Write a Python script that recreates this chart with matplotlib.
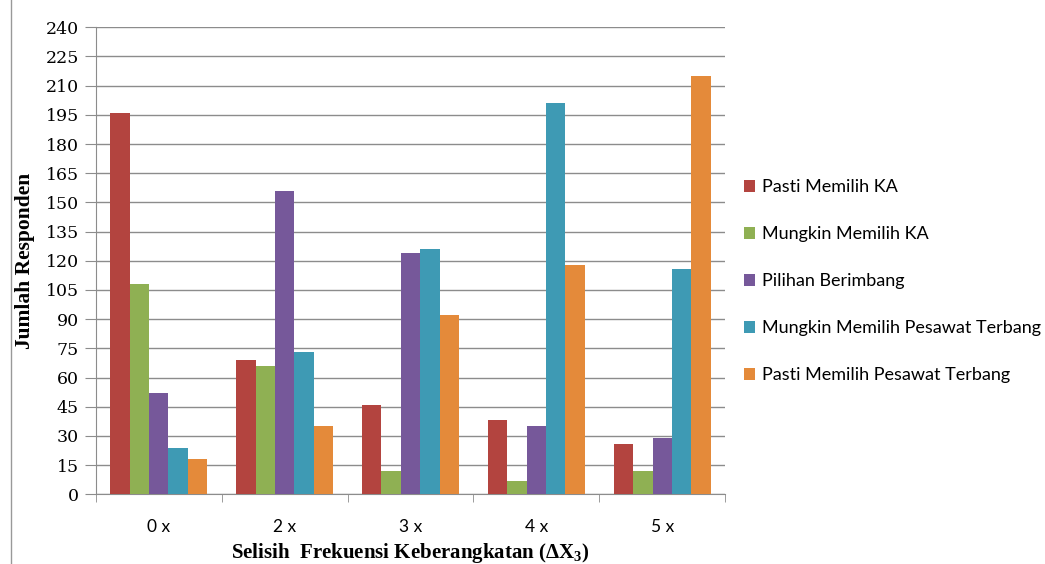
import numpy as np
import matplotlib
matplotlib.use("Agg")
from matplotlib import pyplot as plt

categories = ["0 x", "2 x", "3 x", "4 x", "5 x"]
series = ["Pasti Memilih KA", "Mungkin Memilih KA", "Pilihan Berimbang",
          "Mungkin Memilih Pesawat Terbang", "Pasti Memilih Pesawat Terbang"]
pasti_ka = [196, 69, 46, 38, 26]
mungkin_ka = [108, 66, 12, 7, 12]
berimbang = [52, 156, 124, 35, 29]
mungkin_pesawat = [24, 73, 126, 201, 116]
pasti_pesawat = [18, 35, 92, 118, 215]
colors = ["#B3443F", "#8FB053", "#76589A", "#3E9AB4", "#E48A3A"]
yticks = list(range(0, 241, 15))

values = [pasti_ka, mungkin_ka, berimbang, mungkin_pesawat, pasti_pesawat]

plt.rcParams["mathtext.fontset"] = "custom"
plt.rcParams["mathtext.rm"] = "Liberation Serif:bold"
plt.rcParams["mathtext.it"] = "Liberation Serif:bold"

fig = plt.figure(figsize=(10.45, 5.64), dpi=100)
ax = fig.add_axes([0.0916, 0.1236, 0.6024, 0.828])

x = np.arange(len(categories))
w = 1 / 6.5
for i, (name, vals) in enumerate(zip(series, values)):
    ax.bar(x + (i - 2) * w, vals, width=w, color=colors[i], label=name, zorder=3)

ax.set_xlim(-0.5, len(categories) - 0.5)
ax.set_ylim(0, 240)
ax.set_yticks(yticks)
ax.set_yticklabels([str(t) for t in yticks], family="DejaVu Serif",
                   fontsize=12.5)
ax.yaxis.grid(True, color="#8c8c8c", linewidth=1.0, zorder=0)

# category labels sit in the middle, tick marks between groups
ax.set_xticks(x)
ax.set_xticklabels(categories, family="Lato", fontsize=12.5)
ax.tick_params(axis="x", length=0, pad=18)
ax.set_xticks(np.arange(-0.5, len(categories)), minor=True)
ax.tick_params(axis="x", which="minor", length=6, color="#8c8c8c", direction="out")
ax.tick_params(axis="y", length=8, color="#8c8c8c", direction="out", pad=4)

for s in ["top", "right"]:
    ax.spines[s].set_visible(False)
ax.spines["left"].set_color("#8c8c8c")
ax.spines["bottom"].set_color("#8c8c8c")

ax.set_ylabel("Jumlah Responden", family="Liberation Serif", fontweight="bold",
              fontsize=15.5, labelpad=8)
ax.set_xlabel("Selisih  Frekuensi Keberangkatan (ΔX$_{3}$)",
              family="Liberation Serif", fontweight="bold", fontsize=15,
              labelpad=4)

fig.legend(loc="upper left", bbox_to_anchor=(0.705, 0.695), frameon=False,
           prop={"family": "Lato", "size": 13}, handlelength=0.6,
           handleheight=0.6, handletextpad=0.4, labelspacing=1.72,
           borderaxespad=0)

# page border on the left
fig.add_artist(plt.Line2D([0.0105, 0.0105], [0, 1], color="#999999", linewidth=1))

fig.savefig("out.png", dpi=100)
